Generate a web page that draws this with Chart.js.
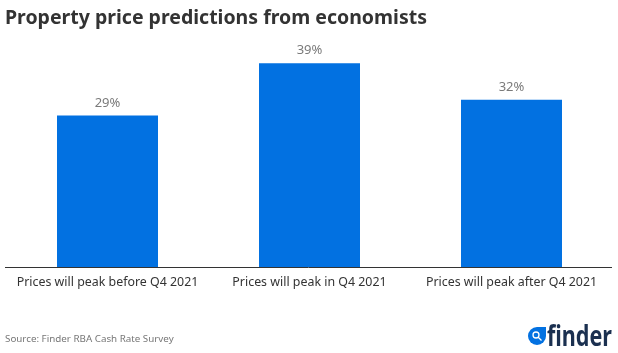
<!DOCTYPE html>
<html lang="en">
<head>
    <meta charset="UTF-8">
    <title>Property price predictions from economists</title>
    <script src="https://cdn.jsdelivr.net/npm/chart.js@4/dist/chart.umd.min.js"></script>
    <style>
        html, body { margin: 0; padding: 0; background: #fff; }
        #box { position: relative; width: 618px; height: 353px; }
    </style>
</head>
<body>
    <div id="box"><canvas id="chart"></canvas></div>
    <script>
        const categories = ['Prices will peak before Q4 2021', 'Prices will peak in Q4 2021', 'Prices will peak after Q4 2021'];
        const shares = [29, 39, 32];
        const titleText = 'Property price predictions from economists';
        const sourceText = 'Source: Finder RBA Cash Rate Survey';
        const logoText = 'finder';
        const fontName = '"Noto Sans", sans-serif';

        // value labels over the bars, heading, axis rule, source line and logo
        const extras = {
            id: 'extras',
            afterDraw(chart) {
                const ctx = chart.ctx;
                ctx.save();
                ctx.textBaseline = 'alphabetic';

                ctx.fillStyle = '#333333';
                ctx.font = 'bold 19.5px ' + fontName;
                ctx.textAlign = 'left';
                ctx.fillText(titleText, 5, 24);

                // the rule runs slightly wider than the plot
                ctx.strokeStyle = '#333333';
                ctx.lineWidth = 1;
                const ruleY = Math.round(chart.scales.x.top) + 0.5;
                ctx.beginPath();
                ctx.moveTo(5, ruleY);
                ctx.lineTo(612, ruleY);
                ctx.stroke();

                ctx.fillStyle = '#7a7a7a';
                ctx.font = '13px ' + fontName;
                ctx.textAlign = 'center';
                chart.getDatasetMeta(0).data.forEach((bar, i) => {
                    ctx.fillText(shares[i] + '%', bar.x, bar.y - 9);
                });

                ctx.fillStyle = '#777777';
                ctx.font = '9.8px ' + fontName;
                ctx.textAlign = 'left';
                ctx.fillText(sourceText, 5, 342);

                // magnifier drop
                ctx.fillStyle = '#0271e1';
                ctx.beginPath();
                ctx.moveTo(546, 327);
                ctx.lineTo(546, 336);
                ctx.arc(537, 336, 9, 0, Math.PI * 1.5, false);
                ctx.closePath();
                ctx.fill();
                ctx.strokeStyle = '#fff';
                ctx.lineWidth = 1.3;
                ctx.beginPath();
                ctx.arc(536, 335, 3, 0, Math.PI * 2);
                ctx.moveTo(538.5, 337.5);
                ctx.lineTo(541.5, 340.5);
                ctx.stroke();

                // wordmark squeezed to the logo's narrow proportions
                ctx.fillStyle = '#1b3050';
                ctx.font = 'bold 28px ' + fontName;
                ctx.textAlign = 'right';
                ctx.translate(612, 346);
                ctx.scale(0.77, 1);
                ctx.fillText(logoText, 0, 0);
                ctx.restore();
            }
        };

        new Chart(document.getElementById('chart'), {
            type: 'bar',
            data: {
                labels: categories,
                datasets: [{
                    data: shares,
                    backgroundColor: '#0271e1',
                    categoryPercentage: 1,
                    barPercentage: 0.5
                }]
            },
            options: {
                responsive: true,
                maintainAspectRatio: false,
                animation: false,
                layout: { padding: { left: 6.5, right: 5.5, top: 58, bottom: 55 } },
                plugins: { legend: { display: false }, tooltip: { enabled: false } },
                scales: {
                    x: {
                        grid: { display: false, drawTicks: false },
                        border: { display: false },
                        ticks: { color: '#333333', font: { family: fontName, size: 12.4 }, padding: 8, maxRotation: 0, autoSkip: false }
                    },
                    y: { display: false, min: 0, max: 40 }
                }
            },
            plugins: [extras]
        });
    </script>
</body>
</html>
